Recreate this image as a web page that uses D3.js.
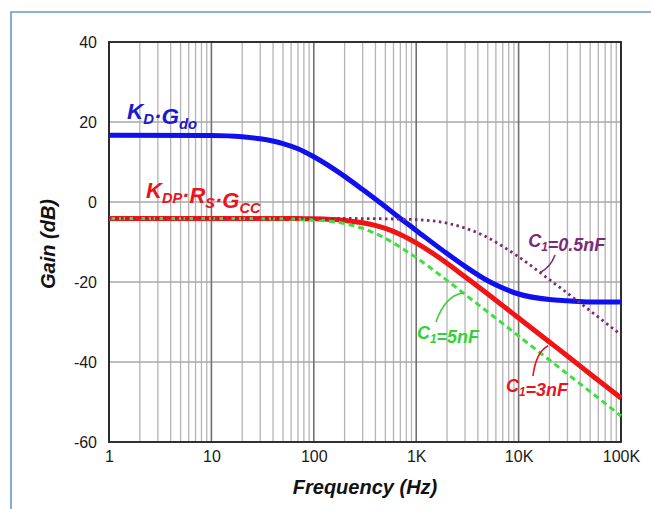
<!DOCTYPE html>
<html>
<head>
<meta charset="utf-8">
<script src="https://cdn.jsdelivr.net/npm/d3@7"></script>
<style>
  html, body { margin: 0; background: #fff; overflow: hidden; }
  svg { display: block; }
  text { font-family: Arial, "Liberation Sans", sans-serif; }
</style>
</head>
<body>
<div id="chart"></div>
<script>
// Frequencies (Hz) and gain curves (dB)
const freqs = [1, 10, 20, 30, 50, 70, 100, 200, 300, 500, 700, 1000, 2000, 3000, 5000, 7000, 10000, 20000, 30000, 50000, 100000];
const gainKdGdo = [16.7, 16.6, 16.3, 15.8, 14.6, 13.3, 11.3, 6.4, 3.1, -1.2, -4.1, -7.1, -12.9, -16.1, -19.7, -21.5, -23.0, -24.4, -24.7, -25.0, -25.0];
const gainC3nF = [-4.1, -4.1, -4.1, -4.1, -4.1, -4.15, -4.2, -4.6, -5.2, -6.6, -8.1, -10.2, -15.3, -18.7, -23.0, -25.9, -29.0, -35.0, -38.5, -43.0, -49.0];
const gainC5nF = [-4.1, -4.1, -4.1, -4.15, -4.2, -4.3, -4.5, -5.4, -6.6, -9.1, -11.3, -13.9, -19.6, -23.1, -27.5, -30.4, -33.5, -39.5, -43.0, -47.4, -53.5];
const gainC05nF = [-4.1, -4.1, -4.1, -4.1, -4.1, -4.1, -4.1, -4.1, -4.15, -4.2, -4.3, -4.4, -5.3, -6.5, -8.9, -11.1, -13.7, -19.4, -22.8, -27.2, -33.2];

const yTicks = [-60, -40, -20, 0, 20, 40];
const xTickValues = [1, 10, 100, 1000, 10000, 100000];
const xTickLabels = ["1", "10", "100", "1K", "10K", "100K"];

const width = 651, height = 509;
const plot = { left: 109, right: 621, top: 42, bottom: 442 };

const svg = d3.select("#chart").append("svg")
  .attr("width", width)
  .attr("height", height);

// outer frame (only top and left edges fall inside the picture)
svg.append("path")
  .attr("d", `M11,${height}V12H${width}`)
  .attr("fill", "none")
  .attr("stroke", "#6a94d0")
  .attr("stroke-width", 1.6);

const x = d3.scaleLog().domain([1, 100000]).range([plot.left, plot.right]);
const y = d3.scaleLinear().domain([-60, 40]).range([plot.bottom, plot.top]);

// grid
const allTicks = x.ticks();
svg.append("g").selectAll("line")
  .data(allTicks.filter(t => !xTickValues.includes(t)))
  .join("line")
  .attr("x1", d => x(d)).attr("x2", d => x(d))
  .attr("y1", plot.top).attr("y2", plot.bottom)
  .attr("stroke", "#b4b4b4")
  .attr("stroke-width", 1.3);

svg.append("g").selectAll("line")
  .data(yTicks)
  .join("line")
  .attr("x1", plot.left).attr("x2", plot.right)
  .attr("y1", d => y(d)).attr("y2", d => y(d))
  .attr("stroke", "#a8a8a8")
  .attr("stroke-width", 1.3);

svg.append("g").selectAll("line")
  .data(xTickValues)
  .join("line")
  .attr("x1", d => x(d)).attr("x2", d => x(d))
  .attr("y1", plot.top).attr("y2", plot.bottom)
  .attr("stroke", "#707070")
  .attr("stroke-width", 1.6);

// plot border
svg.append("rect")
  .attr("x", plot.left).attr("y", plot.top)
  .attr("width", plot.right - plot.left).attr("height", plot.bottom - plot.top)
  .attr("fill", "none")
  .attr("stroke", "#222")
  .attr("stroke-width", 1.8);

// axes (labels only)
const yAxis = svg.append("g")
  .attr("transform", `translate(${plot.left},0)`)
  .call(d3.axisLeft(y).tickValues(yTicks).tickSize(0).tickPadding(12)
    .tickFormat(d => String(d)));
yAxis.select(".domain").remove();
yAxis.selectAll("text")
  .attr("font-size", 16)
  .attr("fill", "#1a1a1a")
  .attr("font-family", "Arial, 'Liberation Sans', sans-serif");

const xAxis = svg.append("g")
  .attr("transform", `translate(0,${plot.bottom})`)
  .call(d3.axisBottom(x).tickValues(xTickValues).tickSize(0).tickPadding(9)
    .tickFormat((d, i) => xTickLabels[i]));
xAxis.select(".domain").remove();
xAxis.selectAll("text")
  .attr("font-size", 16)
  .attr("fill", "#1a1a1a")
  .attr("font-family", "Arial, 'Liberation Sans', sans-serif");

// axis titles
svg.append("text")
  .attr("x", 365).attr("y", 494)
  .attr("text-anchor", "middle")
  .attr("font-size", 20)
  .attr("font-weight", "bold")
  .attr("font-style", "italic")
  .attr("fill", "#111")
  .text("Frequency (Hz)");

svg.append("text")
  .attr("transform", "translate(55,244) rotate(-90)")
  .attr("text-anchor", "middle")
  .attr("font-size", 20)
  .attr("font-weight", "bold")
  .attr("font-style", "italic")
  .attr("fill", "#111")
  .text("Gain (dB)");

// curves
const line = g => d3.line()
  .x((d, i) => x(freqs[i]))
  .y(d => y(d))
  .curve(d3.curveMonotoneX)(g);

svg.append("path")
  .attr("d", line(gainKdGdo))
  .attr("fill", "none")
  .attr("stroke", "#1010ee")
  .attr("stroke-width", 5);

svg.append("path")
  .attr("d", line(gainC3nF))
  .attr("fill", "none")
  .attr("stroke", "#f01414")
  .attr("stroke-width", 5);

svg.append("path")
  .attr("d", line(gainC5nF))
  .attr("fill", "none")
  .attr("stroke", "#3ee03e")
  .attr("stroke-width", 3)
  .attr("stroke-dasharray", "6,4");

svg.append("path")
  .attr("d", line(gainC05nF))
  .attr("fill", "none")
  .attr("stroke", "#7a2a7a")
  .attr("stroke-width", 2.8)
  .attr("stroke-dasharray", "2.5,3.5");

// labels with subscripts
function label(xp, yp, color, size, parts) {
  const t = svg.append("text")
    .attr("x", xp).attr("y", yp)
    .attr("font-size", size)
    .attr("font-weight", "bold")
    .attr("font-style", "italic")
    .attr("fill", color);
  parts.forEach(p => {
    if (p.sub) {
      t.append("tspan").attr("dy", size * 0.22).attr("font-size", size * 0.66).text(p.sub);
      t.append("tspan").attr("dy", -size * 0.22).text("");
    } else {
      t.append("tspan").text(p.t);
    }
  });
}

label(x(1.5), 119, "#1a1ad0", 22.5, [{ t: "K" }, { sub: "D" }, { t: "·G" }, { sub: "do" }]);
label(x(2.3), 198, "#e8141e", 22, [{ t: "K" }, { sub: "DP" }, { t: "·R" }, { sub: "S" }, { t: "·G" }, { sub: "CC" }]);
label(x(12400), 247, "#7a2a7a", 18, [{ t: "C" }, { sub: "1" }, { t: "=0.5nF" }]);
label(x(1018), 339, "#33d133", 18, [{ t: "C" }, { sub: "1" }, { t: "=5nF" }]);
label(x(7530), 392, "#e8141e", 18, [{ t: "C" }, { sub: "1" }, { t: "=3nF" }]);

// leader lines
const leader = (pts, color) => svg.append("path")
  .attr("d", `M${pts[0]}Q${pts[1]} ${pts[2]}`)
  .attr("fill", "none")
  .attr("stroke", color)
  .attr("stroke-width", 1.6);

leader([[x(22700), 255], [x(20300), 268], [x(16200), y(-17.6)]], "#7a2a7a");
leader([[x(1561), 322], [x(1910), 296], [x(2870), y(-22.7)]], "#33d133");
leader([[x(13800), 376], [x(14800), 352], [x(19400), y(-34.7) + 5]], "#e8141e");
</script>
</body>
</html>
